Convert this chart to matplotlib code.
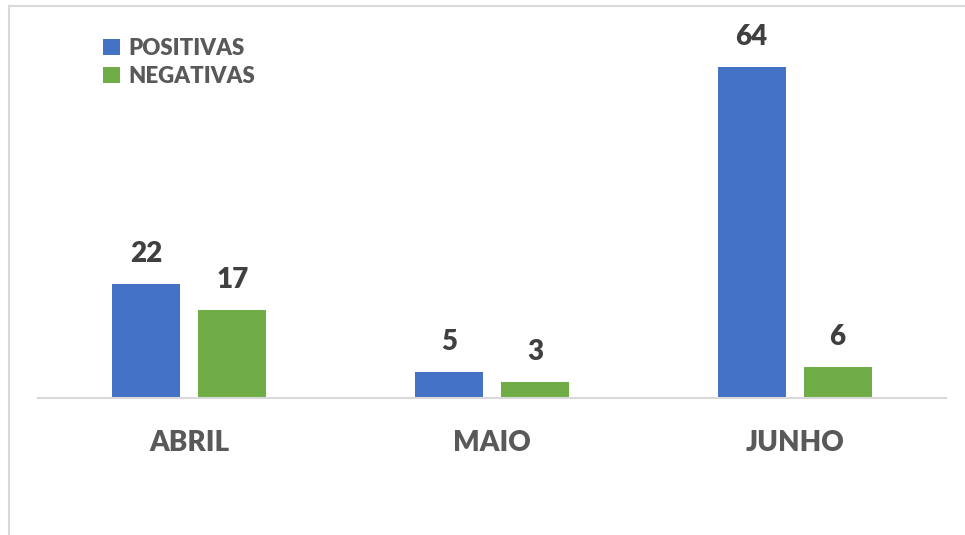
import matplotlib
matplotlib.use("Agg")
import matplotlib.pyplot as plt
from matplotlib.lines import Line2D
import numpy as np

categories = ["ABRIL", "MAIO", "JUNHO"]
positivas = [22, 5, 64]
negativas = [17, 3, 6]
series_names = ["POSITIVAS", "NEGATIVAS"]

plt.rcParams['font.family'] = ['Lato', 'DejaVu Sans']
WEIGHT = 'heavy'

W, H = 965, 535
fig = plt.figure(figsize=(W/100, H/100), dpi=100)
fig.patch.set_facecolor('white')

# outer frame lines (top and left)
fig.add_artist(Line2D([8.5/W, 8.5/W], [0, 1 - 6/H], color='#D9D9D9', lw=1.5, transform=fig.transFigure))
fig.add_artist(Line2D([8.5/W, 1], [1 - 6/H, 1 - 6/H], color='#D9D9D9', lw=1.5, transform=fig.transFigure))

left, right = 38/W, 946/W
base_y = 398
ymax = 70
px_per_unit = 331/64
top_y = base_y - ymax*px_per_unit
ax = fig.add_axes([left, 1 - base_y/H, right-left, (base_y-top_y)/H])
ax.set_xlim(-0.5, 2.5)
ax.set_ylim(0, ymax)

x = np.arange(len(categories))
bw = 0.2246
off = 0.142
b1 = ax.bar(x - off, positivas, bw, color='#4472C4', label=series_names[0])
b2 = ax.bar(x + off, negativas, bw, color='#70AD47', label=series_names[1])

for bars, vals in ((b1, positivas), (b2, negativas)):
    for b, v in zip(bars, vals):
        ax.annotate(str(v), (b.get_x() + b.get_width()/2, v), xytext=(0, 12.5),
                    textcoords='offset points', ha='center', va='bottom',
                    fontsize=20, fontweight=WEIGHT, color='#404040')

for s in ['top', 'right', 'left']:
    ax.spines[s].set_visible(False)
ax.spines['bottom'].set_color('#D9D9D9')
ax.spines['bottom'].set_linewidth(1.5)
ax.set_yticks([])
ax.set_xticks(x)
ax.set_xticklabels(categories, fontsize=20, fontweight=WEIGHT, color='#595959')
ax.tick_params(axis='x', length=0, pad=23)

leg = fig.legend(handles=[b1, b2], labels=series_names, loc='upper left',
                 bbox_to_anchor=(103/W, 1 - 38/H), frameon=False,
                 fontsize=16, handlelength=0.75, handleheight=0.75, handletextpad=0.4,
                 labelspacing=0.3, borderaxespad=0, borderpad=0)
for t in leg.get_texts():
    t.set_fontweight(WEIGHT)
    t.set_color('#595959')

fig.savefig('out.png', dpi=100, facecolor='white')
